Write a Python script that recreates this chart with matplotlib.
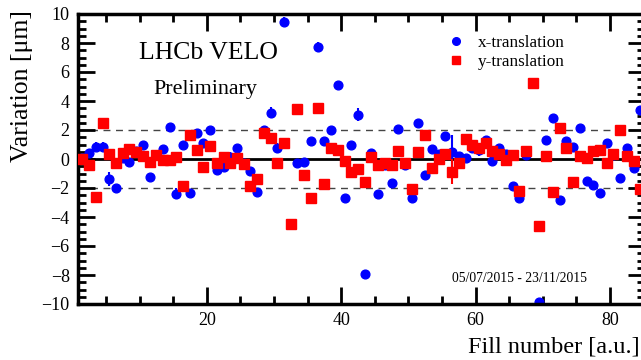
import numpy as np
import matplotlib.pyplot as plt
from matplotlib.lines import Line2D
from matplotlib.ticker import MultipleLocator

# Fill bins 1..84, points drawn at bin centres
fill_bins = np.arange(1, 85)
fill_centres = fill_bins + 0.5

x_translation = [
    0.05, 0.39, 0.85, 0.85, -1.38, -2.0, 0.09, -0.23, 0.57, 1.0,
    -1.22, 0.25, 0.69, 2.23, -2.39, 0.97, -2.34, 1.77, 1.08, 2.0,
    -0.76, -0.53, 0.16, 0.74, -0.3, -0.8, -2.25, 1.98, 3.2, 0.73,
    9.47, np.nan, -0.28, -0.22, 1.23, 7.7, 1.23, 1.98, 5.07, -2.67,
    0.97, 3.06, -7.93, 0.39, -2.44, -0.41, -1.68, 2.07, -0.41, -2.67,
    2.48, -1.1, 0.69, 0.32, 1.61, 0.46, 0.21, 0.05, 0.74, 0.62,
    1.31, -0.14, 0.74, 0.32, -1.84, -2.71, 0.28, np.nan, -9.84, 1.29,
    2.85, -2.85, 1.24, 0.85, 2.16, -1.52, -1.79, -2.37, 1.08, 0.3,
    -1.29, 0.74, -0.6, 3.38,
]
x_err = [
    0.1, 0.15, 0.3, 0.3, 0.45, 0.1, 0.1, 0.1, 0.1, 0.1,
    0.1, 0.1, 0.1, 0.15, 0.4, 0.3, 0.1, 0.1, 0.1, 0.1,
    0.1, 0.3, 0.3, 0.1, 0.1, 0.1, 0.1, 0.1, 0.4, 0.35,
    0.3, 0.1, 0.1, 0.1, 0.1, 0.35, 0.1, 0.1, 0.1, 0.1,
    0.1, 0.45, 0.3, 0.1, 0.1, 0.1, 0.1, 0.1, 0.1, 0.1,
    0.1, 0.1, 0.1, 0.1, 0.1, 1.2, 0.1, 0.1, 0.1, 0.4,
    0.1, 0.1, 0.1, 0.1, 0.1, 0.1, 0.1, 0.1, 0.1, 0.1,
    0.1, 0.1, 0.1, 0.1, 0.1, 0.1, 0.1, 0.1, 0.1, 0.1,
    0.1, 0.1, 0.1, 0.1,
]
y_translation = [
    0.0, -0.44, -2.6, 2.46, 0.32, -0.25, 0.39, 0.69, 0.51, 0.23,
    -0.18, 0.28, -0.07, -0.07, 0.14, -1.86, 1.66, 0.6, -0.55, 0.87,
    -0.3, 0.16, -0.3, 0.05, -0.34, -1.86, -1.38, 1.77, 1.47, -0.3,
    1.08, -4.48, 3.45, -1.1, -2.71, 3.54, -1.75, 0.74, 0.62, -0.11,
    -0.87, -0.66, -1.61, 0.16, -0.41, -0.3, -0.41, 0.55, -0.3, -2.09,
    0.51, 1.66, -0.6, 0.0, 0.32, -0.87, -0.3, 1.36, 0.97, 0.74,
    1.08, 0.55, 0.32, -0.07, 0.28, -2.18, 0.55, 5.22, -4.62, 0.23,
    -2.3, 2.11, 0.74, -1.61, 0.23, 0.09, 0.55, 0.62, -0.25, 0.32,
    2.0, 0.21, -0.11, -2.09,
]
y_err = [0.1] * 84
y_err[55] = 0.87

serif = "Liberation Serif"

fig = plt.figure(figsize=(6.41, 3.6), dpi=100)
ax = fig.add_axes([78 / 641, 1 - 304 / 360, (645 - 78) / 641, (304 - 14) / 360])

# Reference lines
ax.axhline(0, color="black", lw=2, zorder=1)
for lvl in (2, -2):
    ax.axhline(lvl, color="#444444", lw=1, ls=(0, (5, 4)), zorder=1)

# Data points
ax.errorbar(fill_centres, x_translation, yerr=x_err, fmt="o", color="blue",
            ms=6.3, elinewidth=1.5, capsize=0, zorder=2)
ax.errorbar(fill_centres, y_translation, yerr=y_err, fmt="s", color="red",
            ms=6.5, elinewidth=1.5, capsize=0, zorder=3)

ax.set_xlim(0.85, 85.2)
ax.set_ylim(-10, 10)
ax.xaxis.set_major_locator(MultipleLocator(20))
ax.xaxis.set_minor_locator(MultipleLocator(5))
ax.yaxis.set_major_locator(MultipleLocator(2))
ax.yaxis.set_minor_locator(MultipleLocator(0.5))
ax.tick_params(which="both", direction="in", top=True, right=True, width=2,
               labelsize=13, labelfontfamily=serif, pad=6)
ax.tick_params(which="major", length=12)
ax.tick_params(which="minor", length=6)
for sp in ax.spines.values():
    sp.set_linewidth(2.5)

# Axis titles
fig.text(22 / 641, 1 - 10 / 360, "Variation [μm]", rotation=90, ha="center",
         va="top", fontsize=18.5, family=serif)
fig.text(640 / 641, 1 - 352 / 360, "Fill number [a.u.]", ha="right",
         va="baseline", fontsize=17.5, family=serif)

# Annotations
ax.text(0.108, 0.845, "LHCb VELO", transform=ax.transAxes, fontsize=18.5,
        family=serif)
ax.text(0.132, 0.725, "Preliminary", transform=ax.transAxes, fontsize=15.8,
        family=serif)
ax.text(0.66, 0.075, "05/07/2015 - 23/11/2015", transform=ax.transAxes,
        fontsize=9.8, family=serif)

handles = [
    Line2D([], [], ls="none", marker="o", color="blue", ms=5.5),
    Line2D([], [], ls="none", marker="s", color="red", ms=5.5),
]
ax.legend(handles, ["x-translation", "y-translation"], loc="upper left",
          bbox_to_anchor=(0.625, 0.98), frameon=False,
          prop={"family": serif, "size": 12.3},
          handletextpad=0.75, labelspacing=0.15, handlelength=1.0)

fig.savefig("out.png", dpi=100)
